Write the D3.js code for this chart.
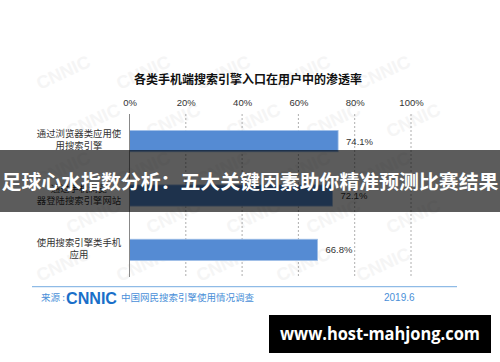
<!DOCTYPE html>
<html>
<head>
<meta charset="utf-8">
<script src="https://cdn.jsdelivr.net/npm/d3@7"></script>
<style>
  html, body { margin: 0; padding: 0; background: #fff; }
  svg { display: block; }
</style>
</head>
<body>
<div id="chart"></div>
<script>
// chart data
const title = "各类手机端搜索引擎入口在用户中的渗透率";
const categories = [
  ["通过浏览器类应用使", "用搜索引擎"],
  ["通过手机浏览", "器登陆搜索引擎网站"],
  ["使用搜索引擎类手机", "应用"]
];
const values = [74.1, 72.1, 66.8];
const tickValues = [0, 20, 40, 60, 80, 100];
const sourceText = "中国网民搜索引擎使用情况调查";
const dateText = "2019.6";
const bannerText = "足球心水指数分析：五大关键因素助你精准预测比赛结果";
const siteText = "www.host-mahjong.com";

const width = 500, height = 362;
const font = "'Noto Sans CJK SC', 'Noto Sans', sans-serif";

const svg = d3.select("#chart")
  .append("svg")
  .attr("width", width)
  .attr("height", height);

// very faint CNNIC watermarks inside the chart panel
const wm = svg.append("g");
for (let r = 0; r < 5; r++) {
  for (let c = 0; c < 5; c++) {
    const wx = 40 + c * 80 + (r % 2) * 30;
    const wy = 90 + r * 48;
    if (wx + 60 > 455) continue;
    wm.append("text")
      .attr("transform", `translate(${wx}, ${wy}) rotate(-25)`)
      .attr("font-family", "Arial, 'Liberation Sans', sans-serif")
      .attr("font-weight", "bold")
      .attr("font-size", 18)
      .attr("fill", "#f5f5f5")
      .text("CNNIC");
  }
}

// title
svg.append("text")
  .attr("x", 248).attr("y", 84)
  .attr("text-anchor", "middle")
  .attr("font-family", font)
  .attr("font-weight", "bold")
  .attr("font-size", 12)
  .attr("fill", "#111")
  .text(title);

const x = d3.scaleLinear().domain([0, 100]).range([129.5, 411]);
const y = d3.scaleBand()
  .domain(d3.range(values.length))
  .range([114, 277])
  .paddingInner(0.61)
  .paddingOuter(0.305);

// top axis labels
const axis = svg.append("g")
  .attr("transform", "translate(0,106)")
  .call(d3.axisTop(x).tickValues(tickValues).tickSize(0).tickPadding(0).tickFormat(d => d + "%"));
axis.select(".domain").remove();
axis.selectAll("text")
  .attr("font-family", "'Liberation Sans', Arial, sans-serif")
  .attr("font-size", 9.5)
  .attr("fill", "#333");

// dashed gridlines
svg.append("g")
  .selectAll("line")
  .data(tickValues.filter(d => d > 0))
  .enter()
  .append("line")
  .attr("x1", d => x(d)).attr("x2", d => x(d))
  .attr("y1", 114).attr("y2", 277)
  .attr("stroke", "#999")
  .attr("stroke-width", 0.8)
  .attr("stroke-dasharray", "2,2");

// bars
const rows = svg.append("g")
  .selectAll("g")
  .data(values)
  .enter()
  .append("g");

rows.append("rect")
  .attr("x", x(0))
  .attr("y", (d, i) => y(i))
  .attr("width", d => x(d) - x(0))
  .attr("height", y.bandwidth())
  .attr("fill", "#558bd3")
  .attr("stroke", "#9dbde6")
  .attr("stroke-width", 0.8);

rows.append("text")
  .attr("x", d => x(d) + 8)
  .attr("y", (d, i) => y(i) + y.bandwidth() / 2 + 3.5)
  .attr("font-family", "'Liberation Sans', Arial, sans-serif")
  .attr("font-size", 9.5)
  .attr("fill", "#333")
  .text(d => d.toFixed(1) + "%");

// category labels (two lines, centred)
rows.each(function (d, i) {
  const t = d3.select(this).append("text")
    .attr("text-anchor", "middle")
    .attr("font-family", font)
    .attr("font-size", 9.4)
    .attr("fill", "#333");
  const cy = y(i) + y.bandwidth() / 2;
  categories[i].forEach((line, k) => {
    t.append("tspan")
      .attr("x", 79)
      .attr("y", cy - 4 + k * 12.2)
      .text(line);
  });
});

// vertical axis line
svg.append("line")
  .attr("x1", x(0)).attr("x2", x(0))
  .attr("y1", 114).attr("y2", 277)
  .attr("stroke", "#888")
  .attr("stroke-width", 1);

// source footer
svg.append("line")
  .attr("x1", 32).attr("x2", 457)
  .attr("y1", 286.7).attr("y2", 286.7)
  .attr("stroke", "#8fbbe6")
  .attr("stroke-width", 1.2);

svg.append("text")
  .attr("x", 41).attr("y", 301)
  .attr("font-family", font)
  .attr("font-size", 9.5)
  .attr("fill", "#4a8fd8")
  .text("来源 :");

svg.append("text")
  .attr("x", 66).attr("y", 304)
  .attr("font-family", "'Liberation Sans', Arial, sans-serif")
  .attr("font-weight", "bold")
  .attr("font-size", 16)
  .attr("textLength", 51)
  .attr("lengthAdjust", "spacingAndGlyphs")
  .attr("fill", "#1a6fc9")
  .text("CNNIC");

svg.append("text")
  .attr("x", 121).attr("y", 301)
  .attr("font-family", font)
  .attr("font-size", 9.5)
  .attr("fill", "#4a8fd8")
  .text(sourceText);

svg.append("text")
  .attr("x", 384).attr("y", 301)
  .attr("font-family", "'Liberation Sans', Arial, sans-serif")
  .attr("font-size", 10)
  .attr("fill", "#4a8fd8")
  .text(dateText);

// overlay banner
svg.append("rect")
  .attr("x", 0).attr("y", 150)
  .attr("width", width).attr("height", 62)
  .attr("fill", "#000")
  .attr("fill-opacity", 0.64);

svg.append("text")
  .attr("x", 250).attr("y", 188.5)
  .attr("text-anchor", "middle")
  .attr("font-family", font)
  .attr("font-weight", "bold")
  .attr("font-size", 19)
  .attr("textLength", 497)
  .attr("lengthAdjust", "spacingAndGlyphs")
  .attr("fill", "#fff")
  .text(bannerText);

// site badge
svg.append("rect")
  .attr("x", 269).attr("y", 315)
  .attr("width", 222).attr("height", 38)
  .attr("fill", "#000");

svg.append("text")
  .attr("x", 380).attr("y", 340)
  .attr("text-anchor", "middle")
  .attr("font-family", "'Open Sans', 'Noto Sans', sans-serif")
  .attr("font-weight", "bold")
  .attr("font-size", 18)
  .attr("textLength", 200)
  .attr("lengthAdjust", "spacingAndGlyphs")
  .attr("fill", "#fff")
  .text(siteText);
</script>
</body>
</html>
